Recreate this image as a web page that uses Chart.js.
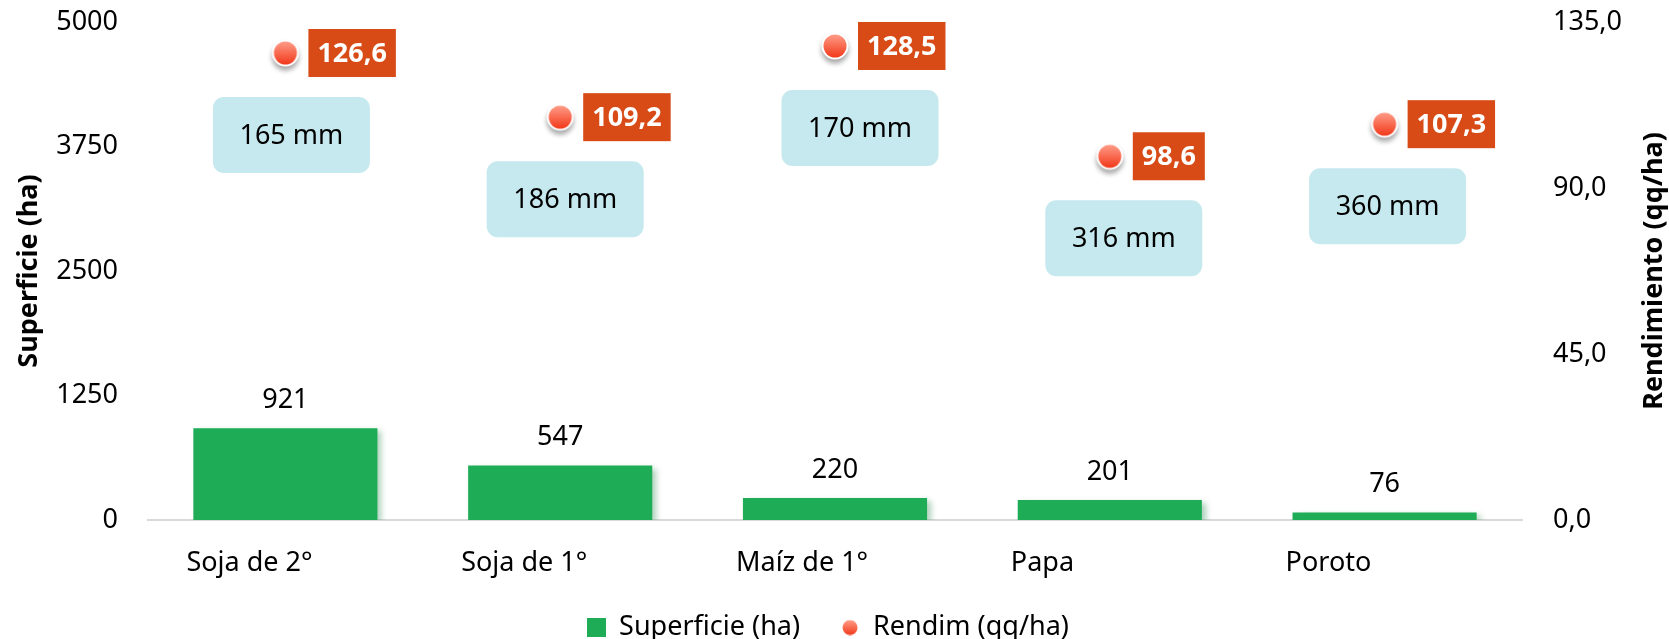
<!DOCTYPE html>
<html><head><meta charset="utf-8">
<script src="https://cdn.jsdelivr.net/npm/chart.js@4.4.1/dist/chart.umd.min.js"></script>
<style>html,body{margin:0;padding:0;background:#fff;overflow:hidden;} #wrap{width:1669px;height:639px;}</style>
</head><body><div id="wrap"><canvas id="c" width="1669" height="639"></canvas></div>
<script>
// ---- data ----
const categories = ['Soja de 2°', 'Soja de 1°', 'Maíz de 1°', 'Papa', 'Poroto'];
const superficie = [921, 547, 220, 201, 76];
const rendim = [126.6, 109.2, 128.5, 98.6, 107.3];
const lluvia = ['165 mm', '186 mm', '170 mm', '316 mm', '360 mm'];
const leftTicks = [0, 1250, 2500, 3750, 5000];
const rightTicks = [0, 45, 90, 135];

// ---- layout / style (not data) ----
const FONT = "'Noto Sans', 'Open Sans', sans-serif";
const FS = 27;
const mmBoxDx = [6, 5, 25, 14, 3];
const GREEN = '#1EAD56';
const ORANGE = '#D84B16';
const BLUE = '#C5E9EE';

function makeDot(size, rOuter, rInner, shadow) {
  const c = document.createElement('canvas');
  c.width = size; c.height = size;
  const g = c.getContext('2d');
  const m = size / 2;
  if (rOuter > 0) {
    g.save();
    if (shadow) { g.shadowColor = 'rgba(0,0,0,0.35)'; g.shadowBlur = 5; g.shadowOffsetY = 4; }
    g.beginPath(); g.arc(m, m, rOuter, 0, Math.PI * 2); g.fillStyle = '#fff'; g.fill();
    g.restore();
  }
  const gr = g.createLinearGradient(0, m - rInner, 0, m + rInner);
  gr.addColorStop(0, '#FF9C88');
  gr.addColorStop(1, '#F2391A');
  g.beginPath(); g.arc(m, m, rInner, 0, Math.PI * 2); g.fillStyle = gr; g.fill();
  return c;
}
const dotImg = makeDot(44, 13.5, 11.5, true);
const legendDot = makeDot(16, 0, 7.5, false);
const legendSq = (() => { const c = document.createElement('canvas'); c.width = 19; c.height = 19; const g = c.getContext('2d'); g.fillStyle = GREEN; g.fillRect(0, 0, 19, 19); return c; })();

function fmt(v) { return v.toFixed(1).replace('.', ','); }

const shadowPlugin = {
  id: 'barShadow',
  beforeDatasetDraw(chart, args) {
    if (args.index !== 0) return;
    const ctx = chart.ctx; ctx.save();
    ctx.shadowColor = 'rgba(20,120,60,0.35)'; ctx.shadowBlur = 6; ctx.shadowOffsetX = 4; ctx.shadowOffsetY = 3;
  },
  afterDatasetDraw(chart, args) { if (args.index === 0) chart.ctx.restore(); }
};

const rightTitlePlugin = {
  id: 'rightTitle',
  afterDraw(chart) {
    const ctx = chart.ctx, a = chart.chartArea;
    ctx.save();
    ctx.translate(1654, (a.top + a.bottom) / 2);
    ctx.rotate(-Math.PI / 2);
    ctx.font = `bold ${FS}px ${FONT}`; ctx.fillStyle = '#000';
    ctx.textAlign = 'center'; ctx.textBaseline = 'middle';
    ctx.fillText('Rendimiento (qq/ha)', 0, 0);
    ctx.restore();
  }
};

const annotPlugin = {
  id: 'annot',
  afterDatasetsDraw(chart) {
    const ctx = chart.ctx;
    const barMeta = chart.getDatasetMeta(0);
    const ptMeta = chart.getDatasetMeta(1);
    ctx.save();
    ctx.textAlign = 'center'; ctx.textBaseline = 'middle';
    ctx.font = `${FS}px ${FONT}`; ctx.fillStyle = '#000';
    barMeta.data.forEach((bar, i) => { ctx.fillText(String(superficie[i]), bar.x, bar.y - 28); });
    ptMeta.data.forEach((pt, i) => {
      const cx = pt.x + mmBoxDx[i], cy = pt.y + 82;
      ctx.beginPath();
      ctx.roundRect(cx - 78.5, cy - 38, 157, 76, 11);
      ctx.fillStyle = BLUE; ctx.fill();
      ctx.fillStyle = '#000'; ctx.font = `${FS}px ${FONT}`;
      ctx.fillText(lluvia[i], cx, cy + 1);
      ctx.font = `bold ${FS}px ${FONT}`;
      const label = fmt(rendim[i]);
      const w = ctx.measureText(label).width + 18;
      ctx.fillStyle = ORANGE;
      ctx.fillRect(pt.x + 23, pt.y - 24, w, 48);
      ctx.fillStyle = '#fff';
      ctx.fillText(label, pt.x + 23 + w / 2, pt.y + 1);
    });
    ctx.restore();
  }
};

new Chart(document.getElementById('c'), {
  data: {
    labels: categories,
    datasets: [
      { type: 'bar', label: 'Superficie (ha)', data: superficie, backgroundColor: GREEN, yAxisID: 'y',
        barPercentage: 0.67, categoryPercentage: 1, order: 2 },
      { type: 'line', label: 'Rendim (qq/ha)', data: rendim, yAxisID: 'y1', showLine: false,
        pointStyle: dotImg, pointRadius: 14, pointHoverRadius: 14, order: 1, clip: false }
    ]
  },
  options: {
    responsive: false,
    animation: false,
    events: [],
    layout: { autoPadding: false, padding: { top: 22, left: 0, right: 0, bottom: -12 } },
    scales: {
      x: {
        grid: { display: false, drawTicks: false },
        border: { display: true, color: '#D9D9D9', width: 2 },
        ticks: { font: { family: FONT, size: FS }, color: '#000', align: 'start', labelOffset: -99, padding: 27 },
        afterFit: s => { s.height = 94; s.paddingLeft = 0; s.paddingRight = 0; }
      },
      y: {
        position: 'left', min: 0, max: 5000,
        grid: { display: false, drawTicks: false },
        border: { display: false },
        afterBuildTicks: s => { s.ticks = leftTicks.map(v => ({ value: v })); },
        ticks: { font: { family: FONT, size: FS }, color: '#000', padding: 30, callback: v => String(v) },
        title: { display: true, text: 'Superficie (ha)', font: { family: FONT, size: FS, weight: 'bold', lineHeight: 1 }, color: '#000', padding: { top: 16, bottom: 0 } },
        afterFit: s => { s.width = 148; s.paddingTop = 0; s.paddingBottom = 0; }
      },
      y1: {
        position: 'right', min: 0, max: 135,
        grid: { display: false, drawTicks: false },
        border: { display: false },
        afterBuildTicks: s => { s.ticks = rightTicks.map(v => ({ value: v })); },
        ticks: { font: { family: FONT, size: FS }, color: '#000', padding: 31, callback: v => fmt(v) },
        title: { display: false },
        afterFit: s => { s.width = 147; s.paddingTop = 0; s.paddingBottom = 0; }
      }
    },
    plugins: {
      legend: {
        position: 'bottom',
        labels: {
          font: { family: FONT, size: FS }, color: '#000', padding: 0,
          usePointStyle: true, boxWidth: 19, boxHeight: 19,
          generateLabels: chart => chart.data.datasets.map((d, i) => ({
            text: i === 0 ? d.label + '\u2003\u2002' : d.label + '\u2002',
            pointStyle: i === 0 ? legendSq : legendDot,
            fillStyle: 'transparent', strokeStyle: 'transparent', lineWidth: 0,
            datasetIndex: i, hidden: false, fontColor: '#000'
          }))
        }
      },
      tooltip: { enabled: false }
    }
  },
  plugins: [shadowPlugin, annotPlugin, rightTitlePlugin]
});
</script>
</body></html>
